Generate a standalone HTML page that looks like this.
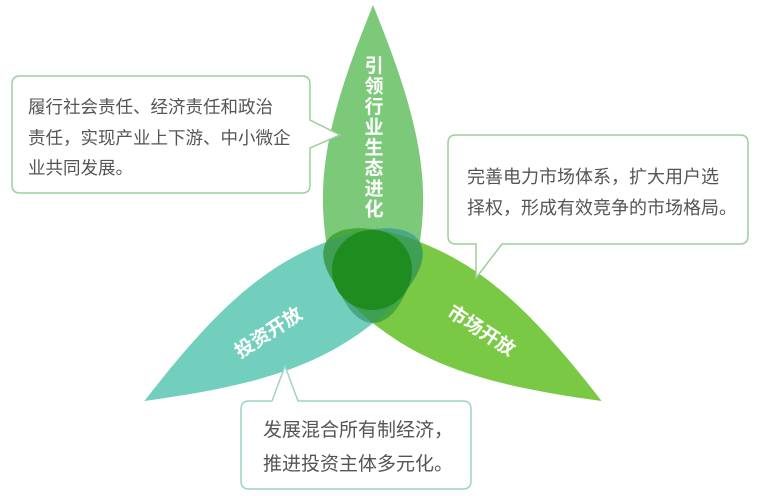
<!DOCTYPE html>
<html><head><meta charset="utf-8"><style>
html,body{margin:0;padding:0;background:#fff;}
svg{display:block;}
text{font-family:"Liberation Sans","Noto Sans CJK SC",sans-serif;}
</style></head><body>
<svg width="760" height="496" viewBox="0 0 760 496" xmlns="http://www.w3.org/2000/svg">
<defs>
<path id="leaf" d="M0,-264 C30,-190 52,-125 50,-62 C48,0 28,54 0,54 C-28,54 -48,0 -50,-62 C-52,-125 -30,-190 0,-264 Z"/>
<clipPath id="cTop"><use href="#leaf" transform="translate(373,269)"/></clipPath>
<clipPath id="cLeft"><use href="#leaf" transform="translate(373,269) rotate(-120)"/></clipPath>
</defs>
<rect width="760" height="496" fill="#fff"/>
<use href="#leaf" transform="translate(373,269)" fill="#7cc97a"/>
<use href="#leaf" transform="translate(373,269) rotate(-120)" fill="#73cfbd"/>
<use href="#leaf" transform="translate(373,269) rotate(120)" fill="#7ac944"/>
<g clip-path="url(#cTop)">
<use href="#leaf" transform="translate(373,269) rotate(-120)" fill="#4aa885"/>
<use href="#leaf" transform="translate(373,269) rotate(120)" fill="#46a73c"/>
</g>
<g clip-path="url(#cLeft)">
<use href="#leaf" transform="translate(373,269) rotate(120)" fill="#3f9f55"/>
</g>
<circle cx="372" cy="270" r="40" fill="#1f8c20"/>
<g fill="#fff" font-size="19" font-weight="bold" text-anchor="middle">
<text x="374" y="72">引</text><text x="374" y="92.5">领</text><text x="374" y="113">行</text><text x="374" y="133.5">业</text><text x="374" y="154">生</text><text x="374" y="174.5">态</text><text x="374" y="195">进</text><text x="374" y="215.5">化</text>
<text transform="translate(272,338) rotate(-33)" x="0" y="0">投资开放</text>
<text transform="translate(478,336) rotate(33)" x="0" y="0">市场开放</text>
</g>
<path d="M20,76 H302 Q310,76 310,84 V120 L340,135 L310,148 V185 Q310,193 302,193 H20 Q12,193 12,185 V84 Q12,76 20,76 Z" fill="#fff" stroke="#9ccf9c" stroke-width="1.5"/>
<g fill="#555" font-size="17.5">
<text x="28" y="113">履行社会责任、经济责任和政治</text>
<text x="28" y="144">责任，实现产业上下游、中小微企</text>
<text x="28" y="174">业共同发展。</text>
</g>
<path d="M456,135 H740 Q748,135 748,143 V236 Q748,244 740,244 H502 L476,278 L476,244 H456 Q448,244 448,236 V143 Q448,135 456,135 Z" fill="#fff" stroke="#9ccf9c" stroke-width="1.5"/>
<g fill="#555" font-size="18">
<text x="467" y="183">完善电力市场体系，扩大用户选</text>
<text x="467" y="214">择权，形成有效竞争的市场格局。</text>
</g>
<path d="M249,401 H272 L285,366 L298,401 H463 Q471,401 471,409 V481 Q471,489 463,489 H249 Q241,489 241,481 V409 Q241,401 249,401 Z" fill="#fff" stroke="#9cd3c6" stroke-width="1.5"/>
<g fill="#555" font-size="19">
<text x="263" y="436">发展混合所有制经济，</text>
<text x="263" y="470">推进投资主体多元化。</text>
</g>
</svg>
</body></html>
